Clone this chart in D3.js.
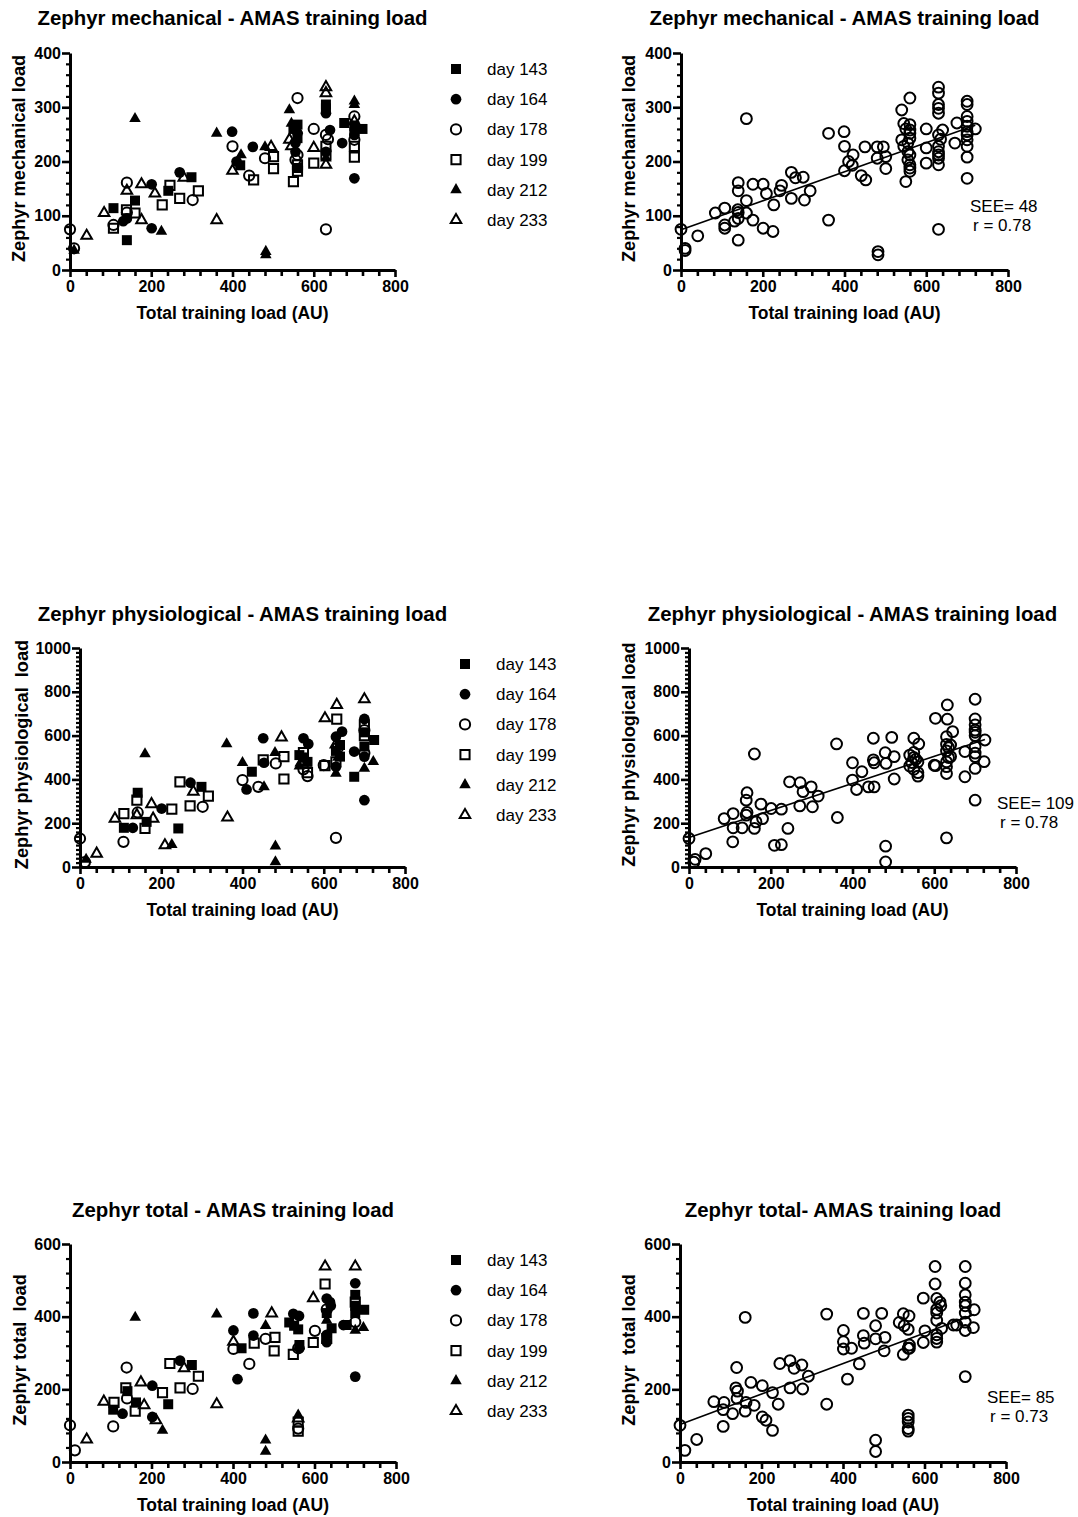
<!DOCTYPE html>
<html><head><meta charset="utf-8">
<script src="https://cdn.jsdelivr.net/npm/d3@7"></script>
<style>
body{margin:0;background:#fff}
svg{display:block}
text{font-family:"Liberation Sans",Arial,Helvetica,sans-serif;fill:#000}
</style>
</head><body>
<svg id="c" width="1078" height="1517"></svg>
<script>
// ---------------- DATA ----------------
const dayLabels = ["day 143","day 164","day 178","day 199","day 212","day 233"];
const xTicks = [0,200,400,600,800];
const xLabel = "Total training load (AU)";

const titlesLeft  = ["Zephyr mechanical - AMAS training load","Zephyr physiological - AMAS training load","Zephyr total - AMAS training load"];
const titlesRight = ["Zephyr mechanical - AMAS training load","Zephyr physiological - AMAS training load","Zephyr total- AMAS training load"];
const yLabelsLeft  = ["Zephyr mechanical load","Zephyr physiological  load","Zephyr total  load"];
const yLabelsRight = ["Zephyr mechanical load","Zephyr physiological load","Zephyr  total load"];
const yMax = [400,1000,600];
const yMajorStep = [100,200,200];
const yMinorStep = [20,20,40];
const fitIntercept = [74,135,103];
const fitSlope = [0.268,0.617,0.42];
const seeText = ["SEE= 48","SEE= 109","SEE= 85"];
const rText = ["r = 0.78","r = 0.78","r = 0.73"];

// mechanical load: [training load, Zephyr value]
const mech143 = [[107,114],[140,55],[160,128],[242,146],[299,171],[419,193],[550,260],[560,268],[560,243],[560,188],[630,305],[630,298],[675,271],[700,265],[700,255],[720,260]];
const mech164 = [[131,90],[140,95],[201,158],[201,77],[270,180],[399,255],[410,200],[450,227],[560,252],[555,234],[555,218],[640,258],[630,218],[630,289],[670,234],[700,249],[700,169]];
const mech178 = [[0,75],[10,40],[107,83],[140,106],[140,161],[302,129],[400,228],[441,174],[480,206],[560,317],[560,212],[555,203],[600,260],[630,249],[630,75],[635,241],[700,283],[700,240]];
const mech199 = [[107,77],[139,111],[160,105],[227,120],[246,156],[270,132],[316,146],[452,166],[501,209],[501,187],[550,163],[560,194],[560,182],[600,197],[630,228],[630,212],[700,228],[700,208]];
const mech212 = [[10,36],[160,279],[225,71],[361,252],[421,212],[480,227],[482,34],[482,28],[540,295],[545,270],[560,258],[630,206],[700,311],[700,305]];
const mech233 = [[41,63],[84,105],[140,146],[176,158],[176,92],[209,141],[280,170],[361,92],[400,183],[495,227],[540,240],[545,228],[600,225],[630,337],[630,326],[630,194],[700,274]];

// physiological load
const phys143 = [[108,179],[142,339],[164,206],[242,176],[299,366],[423,435],[540,511],[560,480],[550,500],[640,557],[640,504],[630,530],[675,412],[700,615],[700,550],[724,580]];
const phys164 = [[130,179],[201,267],[272,385],[410,354],[451,588],[453,476],[550,588],[562,562],[645,618],[630,595],[630,458],[675,527],[700,676],[700,504],[700,305]];
const phys178 = [[0,130],[12,22],[107,115],[142,249],[302,275],[400,397],[439,366],[482,473],[560,415],[550,446],[600,465],[630,133],[635,545],[700,520],[700,625]];
const phys199 = [[108,244],[140,305],[160,176],[226,264],[246,389],[271,279],[316,324],[451,489],[502,504],[502,402],[550,523],[560,431],[603,463],[632,675],[630,480],[700,649],[700,600]];
const phys212 = [[15,35],[160,516],[226,102],[361,562],[400,476],[453,366],[480,522],[481,95],[481,23],[540,461],[555,492],[630,427],[635,500],[700,450],[722,481]];
const phys233 = [[41,61],[86,221],[140,237],[176,287],[180,221],[209,99],[279,344],[363,226],[496,592],[545,477],[603,679],[632,740],[630,560],[700,766]];

// total load
const tot143 = [[106,144],[141,195],[162,164],[241,159],[299,267],[421,313],[538,384],[550,375],[560,365],[563,322],[630,410],[642,368],[679,377],[700,460],[700,430],[700,410],[722,419]];
const tot164 = [[129,133],[202,210],[202,124],[270,279],[401,362],[411,228],[450,409],[450,348],[548,408],[562,402],[563,313],[630,450],[638,440],[640,430],[630,350],[630,330],[671,377],[700,492],[700,235]];
const tot178 = [[0,101],[12,32],[106,98],[139,260],[140,175],[301,201],[401,311],[440,270],[480,339],[560,313],[560,92],[601,361],[630,420],[700,385]];
const tot199 = [[108,164],[137,204],[160,140],[227,191],[245,271],[270,204],[315,236],[452,327],[503,343],[501,306],[548,296],[560,85],[560,110],[597,329],[626,490],[630,340],[700,440]];
const tot212 = [[160,398],[227,87],[360,407],[480,375],[480,60],[480,29],[560,129],[630,390],[700,362],[720,370]];
const tot233 = [[41,62],[83,166],[174,219],[182,156],[211,115],[280,258],[360,159],[401,331],[495,409],[560,120],[597,451],[626,538],[700,538]];

const seriesByMetric = [
  [mech143,mech164,mech178,mech199,mech212,mech233],
  [phys143,phys164,phys178,phys199,phys212,phys233],
  [tot143,tot164,tot178,tot199,tot212,tot233]
];

// ---------------- LAYOUT / STYLE ----------------
const rows = [
  {top:53,  bot:270,  left:[70,395],  right:[681,1008], titleY:25,  xLabY:319,  ylabL:18, ylabR:628, legX:456, legY0:69,  seeX:970, seeY:206},
  {top:648, bot:867,  left:[80,405],  right:[689,1016], titleY:621, xLabY:916,  ylabL:21, ylabR:628, legX:465, legY0:664, seeX:997, seeY:803},
  {top:1244,bot:1462, left:[70,396],  right:[680,1006], titleY:1217,xLabY:1511, ylabL:19, ylabR:628, legX:456, legY0:1260,seeX:987, seeY:1397}
];
const legStep = 30.2;
const symStyles = [
  {type:d3.symbolSquare,   fill:true,  size:100},
  {type:d3.symbolCircle,   fill:true,  size:90},
  {type:d3.symbolCircle,   fill:false, size:82},
  {type:d3.symbolSquare,   fill:false, size:84},
  {type:d3.symbolTriangle, fill:true,  size:58},
  {type:d3.symbolTriangle, fill:false, size:48}
];
const openCircle = {type:d3.symbolCircle, fill:false, size:92};

const svg = d3.select("#c");

function drawMarker(g, st, x, y){
  g.append("path")
    .attr("d", d3.symbol().type(st.type).size(st.size)())
    .attr("transform", `translate(${x},${y})`)
    .attr("fill", st.fill ? "#000" : "none")
    .attr("stroke", "#000")
    .attr("stroke-width", st.fill ? 0 : 2);
}

function drawAxes(g, xs, ys, m){
  const yMajors = d3.range(0, yMax[m]+0.001, yMajorStep[m]);
  const yMinors = d3.range(0, yMax[m]+0.001, yMinorStep[m]).filter(v => v % yMajorStep[m] !== 0);
  const xMinors = d3.range(0, 800.001, 40).filter(v => v % 200 !== 0);

  g.append("g").attr("transform",`translate(${xs.range()[0]},0)`)
    .call(d3.axisLeft(ys).tickValues(yMinors).tickSize(4).tickSizeOuter(0).tickFormat(""))
    .call(a => a.select(".domain").remove())
    .call(a => a.selectAll("line").attr("stroke-width",2.2));
  g.append("g").attr("transform",`translate(0,${ys.range()[0]})`)
    .call(d3.axisBottom(xs).tickValues(xMinors).tickSize(6).tickSizeOuter(0).tickFormat(""))
    .call(a => a.select(".domain").remove())
    .call(a => a.selectAll("line").attr("stroke-width",2.6));

  const ya = g.append("g").attr("transform",`translate(${xs.range()[0]},0)`)
    .call(d3.axisLeft(ys).tickValues(yMajors).tickSize(8).tickSizeOuter(0).tickPadding(1).tickFormat(d3.format("d")));
  ya.select(".domain").attr("stroke-width",3);
  ya.selectAll("line").attr("stroke-width",2.6);
  ya.selectAll("text").attr("font-size","16px").attr("font-weight","bold").attr("fill","#000").attr("font-family",null);

  const xa = g.append("g").attr("transform",`translate(0,${ys.range()[0]})`)
    .call(d3.axisBottom(xs).tickValues(xTicks).tickSize(7).tickSizeOuter(0).tickPadding(4).tickFormat(d3.format("d")));
  xa.select(".domain").attr("stroke-width",3);
  xa.selectAll("line").attr("stroke-width",2.6);
  xa.selectAll("text").attr("font-size","16px").attr("font-weight","bold").attr("fill","#000").attr("font-family",null);
}

function titleAndLabels(g, xs, ys, title, ylab, ylabX, titleY, xLabY){
  const cx = (xs.range()[0] + xs.range()[1]) / 2;
  g.append("text").attr("x", cx).attr("y", titleY).attr("text-anchor","middle")
    .attr("font-size","20.4px").attr("font-weight","bold").text(title);
  g.append("text").attr("x", cx).attr("y", xLabY).attr("text-anchor","middle")
    .attr("font-size","17.5px").attr("font-weight","bold").text(xLabel);
  const cy = (ys.range()[0] + ys.range()[1]) / 2 - 3;
  g.append("text").attr("transform",`translate(${ylabX},${cy}) rotate(-90)`)
    .attr("text-anchor","middle").attr("dy","0.36em")
    .attr("font-size","18.2px").attr("font-weight","bold")
    .style("white-space","pre").text(ylab);
}

rows.forEach((r, m) => {
  const series = seriesByMetric[m];

  // ----- left panel: by day -----
  const gL = svg.append("g");
  const xsL = d3.scaleLinear().domain([0,800]).range(r.left);
  const ysL = d3.scaleLinear().domain([0,yMax[m]]).range([r.bot, r.top]);
  titleAndLabels(gL, xsL, ysL, titlesLeft[m], yLabelsLeft[m], r.ylabL, r.titleY, r.xLabY);
  drawAxes(gL, xsL, ysL, m);
  series.forEach((pts, d) => {
    pts.forEach(p => drawMarker(gL, symStyles[d], xsL(p[0]), ysL(p[1])));
  });
  dayLabels.forEach((lab, d) => {
    const ly = r.legY0 + d * legStep;
    drawMarker(gL, symStyles[d], r.legX, ly);
    gL.append("text").attr("x", r.legX + 31).attr("y", ly).attr("dy","0.35em")
      .attr("font-size","17px").text(lab);
  });

  // ----- right panel: pooled with fit -----
  const gR = svg.append("g");
  const xsR = d3.scaleLinear().domain([0,800]).range(r.right);
  const ysR = d3.scaleLinear().domain([0,yMax[m]]).range([r.bot, r.top]);
  titleAndLabels(gR, xsR, ysR, titlesRight[m], yLabelsRight[m], r.ylabR, r.titleY, r.xLabY);
  drawAxes(gR, xsR, ysR, m);
  const all = series.flat();
  all.forEach(p => drawMarker(gR, openCircle, xsR(p[0]), ysR(p[1])));
  const ext = d3.extent(all, p => p[0]);
  const line = d3.line().x(v => xsR(v)).y(v => ysR(fitIntercept[m] + fitSlope[m] * v));
  gR.append("path").attr("d", line(ext)).attr("fill","none").attr("stroke","#000").attr("stroke-width",1.6);
  gR.append("text").attr("x", r.seeX).attr("y", r.seeY).attr("dy","0.35em").attr("font-size","17px").text(seeText[m]);
  gR.append("text").attr("x", r.seeX + 3).attr("y", r.seeY + 19).attr("dy","0.35em").attr("font-size","17px").text(rText[m]);
});
</script>
</body></html>
